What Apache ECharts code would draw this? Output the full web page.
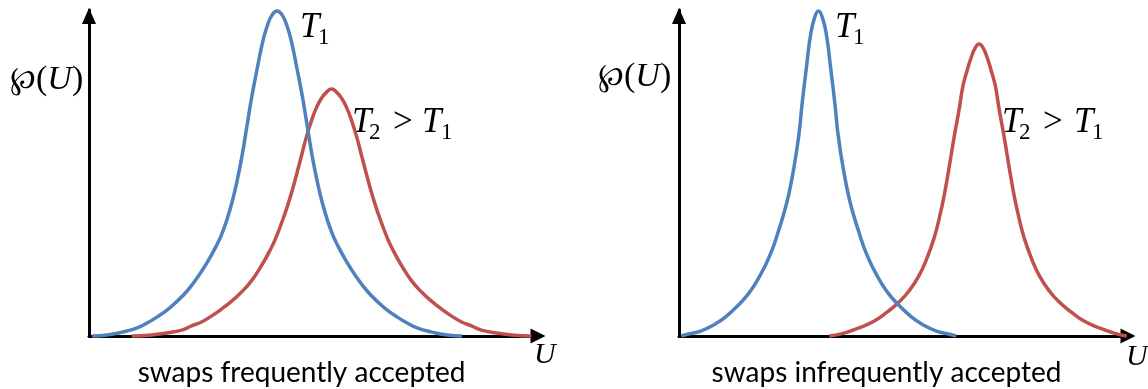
<!DOCTYPE html>
<html>
<head>
<meta charset="utf-8">
<script src="https://cdn.jsdelivr.net/npm/echarts@6/dist/echarts.min.js"></script>
<style>
  html, body { margin: 0; padding: 0; background: #fff; }
  #main { width: 1148px; height: 389px; }
</style>
</head>
<body>
<div id="main"></div>
<script>
var myChart = echarts.init(document.getElementById('main'));

// left panel: swaps frequently accepted
var leftBlueU = [0.07, 0.40, 0.74, 1.07, 1.29, 1.51, 1.74, 1.96, 2.18, 2.40, 2.62, 2.85, 2.96, 3.07, 3.18, 3.29, 3.40, 3.51, 3.62, 3.74, 3.85, 3.96, 4.07, 4.18,
                 4.29, 4.40, 4.51, 4.62, 4.74, 4.85, 4.96, 5.07, 5.18, 5.29, 5.40, 5.51, 5.74, 5.96, 6.18, 6.40, 6.62, 6.85, 7.07, 7.29, 7.62, 7.96, 8.29];
var leftBlueP = [0, 0.003, 0.012, 0.025, 0.040, 0.058, 0.080, 0.107, 0.138, 0.178, 0.224, 0.282, 0.316, 0.359, 0.411, 0.475, 0.552, 0.644, 0.736, 0.822, 0.896, 0.951, 0.985, 0.997,
                 0.985, 0.951, 0.896, 0.822, 0.736, 0.644, 0.552, 0.475, 0.411, 0.359, 0.316, 0.282, 0.224, 0.178, 0.138, 0.107, 0.080, 0.058, 0.040, 0.025, 0.012, 0.003, 0];
var leftRedU = [0.95, 1.39, 1.72, 2.06, 2.28, 2.50, 2.72, 2.95, 3.17, 3.39, 3.61, 3.83, 4.06, 4.17, 4.28, 4.39, 4.50, 4.61, 4.72, 4.83, 4.95, 5.06, 5.17, 5.28, 5.39,
                5.50, 5.61, 5.72, 5.83, 5.95, 6.06, 6.17, 6.28, 6.39, 6.50, 6.61, 6.72, 6.95, 7.17, 7.39, 7.61, 7.83, 8.06, 8.28, 8.50, 8.72, 9.06, 9.39, 9.83];
var leftRedP = [0, 0.003, 0.009, 0.018, 0.031, 0.043, 0.061, 0.083, 0.107, 0.135, 0.169, 0.215, 0.273, 0.307, 0.347, 0.390, 0.439, 0.494, 0.552, 0.610, 0.663, 0.702, 0.730, 0.748, 0.758,
                0.748, 0.730, 0.702, 0.663, 0.610, 0.552, 0.494, 0.439, 0.390, 0.347, 0.307, 0.273, 0.215, 0.169, 0.135, 0.107, 0.083, 0.061, 0.043, 0.031, 0.018, 0.009, 0.003, 0];

// right panel: swaps infrequently accepted
var rightBlueU = [0.05, 0.21, 0.48, 0.77, 1.03, 1.32, 1.54, 1.72, 1.88, 2.06, 2.21, 2.32, 2.43, 2.54, 2.66, 2.74, 2.83, 2.92, 3.01, 3.10,
                  3.19, 3.28, 3.37, 3.46, 3.54, 3.66, 3.77, 3.88, 3.99, 4.14, 4.32, 4.48, 4.66, 4.88, 5.17, 5.43, 5.72, 5.99, 6.16];
var rightBlueP = [0, 0.006, 0.015, 0.034, 0.058, 0.095, 0.129, 0.166, 0.206, 0.261, 0.322, 0.371, 0.429, 0.506, 0.613, 0.718, 0.822, 0.920, 0.975, 0.997,
                  0.975, 0.920, 0.822, 0.718, 0.613, 0.506, 0.429, 0.371, 0.322, 0.261, 0.206, 0.166, 0.129, 0.095, 0.058, 0.034, 0.015, 0.006, 0];
var rightRedU = [3.34, 3.67, 4.00, 4.34, 4.63, 4.89, 5.11, 5.34, 5.51, 5.67, 5.78, 5.89, 6.00, 6.11, 6.23, 6.31, 6.40, 6.49, 6.58, 6.67,
                 6.76, 6.85, 6.94, 7.03, 7.11, 7.23, 7.34, 7.45, 7.56, 7.67, 7.83, 8.00, 8.23, 8.45, 8.71, 9.00, 9.34, 9.67, 9.95];
var rightRedP = [0, 0.009, 0.025, 0.046, 0.074, 0.104, 0.138, 0.187, 0.239, 0.301, 0.359, 0.429, 0.515, 0.607, 0.699, 0.767, 0.813, 0.853, 0.883, 0.896,
                 0.883, 0.853, 0.813, 0.767, 0.699, 0.607, 0.515, 0.429, 0.359, 0.301, 0.239, 0.187, 0.138, 0.104, 0.074, 0.046, 0.025, 0.009, 0];

var captions = ['swaps frequently accepted', 'swaps infrequently accepted'];

var blue = '#4F81BD';
var red = '#C0504D';

function pairs(u, p) {
    return u.map(function (x, i) { return [x, p[i]]; });
}

function xAx(idx) {
    return {
        gridIndex: idx, type: 'value', min: 0, max: 10,
        axisLine: { show: true, onZero: false, symbol: ['none', 'triangle'], symbolSize: [15, 15], symbolOffset: [0, -1],
                    lineStyle: { color: '#000', width: 3 } },
        axisTick: { show: false }, axisLabel: { show: false }, splitLine: { show: false }
    };
}
function yAx(idx) {
    return {
        gridIndex: idx, type: 'value', min: 0, max: 1,
        axisLine: { show: true, onZero: false, symbol: ['none', 'triangle'], symbolSize: [14, 16], symbolOffset: [0, -6],
                    lineStyle: { color: '#000', width: 3 } },
        axisTick: { show: false }, axisLabel: { show: false }, splitLine: { show: false }
    };
}
function curve(idx, u, p, color) {
    return {
        type: 'line', xAxisIndex: idx, yAxisIndex: idx,
        data: pairs(u, p),
        smooth: 0.5,
        showSymbol: false, clip: false, silent: true,
        lineStyle: { color: color, width: 3.5 },
        z: color == blue ? 3 : 2
    };
}

var serifI = 'italic 35px "Liberation Serif"';
var serifSub = '23px "Liberation Serif"';
var serifUp = '35px "Liberation Serif"';
function txt(s, x, y, font, align) {
    return {
        type: 'text', x: x, y: y, silent: true,
        style: { text: s, font: font, fill: '#000', align: align || 'left', verticalAlign: 'middle',
                 textAlign: align || 'left', textVerticalAlign: 'middle' }
    };
}
function pU(x, y) {
    return {
        type: 'text', x: x, y: y, silent: true,
        style: {
            text: '{p|℘}{n|(}{u|U}{n|)}', align: 'left', verticalAlign: 'middle',
            textAlign: 'left', textVerticalAlign: 'middle',
            rich: {
                p: { fontFamily: 'DejaVu Serif', fontSize: 31, fill: '#000' },
                n: { fontFamily: 'Liberation Serif', fontSize: 34, fill: '#000' },
                u: { fontFamily: 'Liberation Serif', fontStyle: 'italic', fontSize: 34, fill: '#000' }
            }
        }
    };
}

option = {
    backgroundColor: '#fff',
    animation: false,
    grid: [
        { left: 89, top: 10, width: 450, height: 326 },
        { left: 679, top: 10, width: 450, height: 326 }
    ],
    xAxis: [xAx(0), xAx(1)],
    yAxis: [yAx(0), yAx(1)],
    series: [
        curve(0, leftBlueU, leftBlueP, blue),
        curve(0, leftRedU, leftRedP, red),
        curve(1, rightBlueU, rightBlueP, blue),
        curve(1, rightRedU, rightRedP, red)
    ],
    graphic: [
        pU(10, 80),
        pU(598, 77),
        // left labels
        txt('T', 300, 28, serifI), txt('1', 318, 38, serifSub),
        txt('T', 352, 123, serifI), txt('2', 369, 133, serifSub), txt('>', 393, 123, serifUp),
        txt('T', 422, 123, serifI), txt('1', 441, 133, serifSub),
        // right labels
        txt('T', 835, 28, serifI), txt('1', 853, 38, serifSub),
        txt('T', 1002, 123, serifI), txt('2', 1019, 133, serifSub), txt('>', 1043, 123, serifUp),
        txt('T', 1074, 123, serifI), txt('1', 1092, 133, serifSub),
        // axis names
        txt('U', 534, 355, 'italic 30px "Liberation Serif"'),
        txt('U', 1126, 357, 'italic 30px "Liberation Serif"'),
        // captions
        txt(captions[0], 301.5, 373, '28px Lato', 'center'),
        txt(captions[1], 886.5, 373, '28px Lato', 'center')
    ]
};

myChart.setOption(option);
</script>
</body>
</html>
